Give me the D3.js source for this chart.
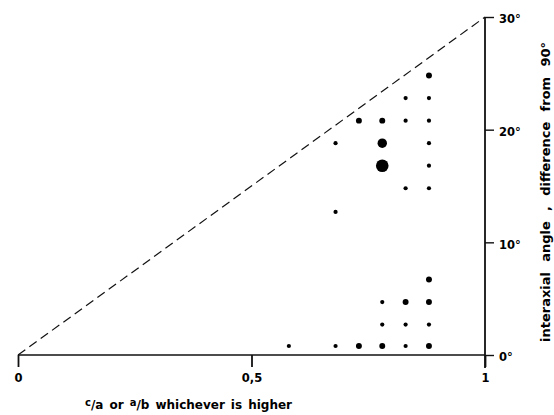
<!DOCTYPE html>
<html>
<head>
<meta charset="utf-8">
<script src="https://cdn.jsdelivr.net/npm/d3@7"></script>
<style>
  html, body { margin: 0; padding: 0; background: #fff; }
  svg { display: block; }
  text { font-family: "DejaVu Sans", "Liberation Sans", Arial, sans-serif; font-weight: bold; fill: #000; }
</style>
</head>
<body>
<svg id="chart" width="554" height="415"></svg>
<script>
// ---- data ----
const ratio = [0.58, 0.68, 0.73, 0.78, 0.83, 0.88,
               0.78, 0.83, 0.88,
               0.78, 0.83, 0.88,
               0.88,
               0.68,
               0.83, 0.88,
               0.78, 0.88,
               0.68, 0.78, 0.88,
               0.73, 0.78, 0.83, 0.88,
               0.83, 0.88,
               0.88];
const angle = [0.8, 0.8, 0.8, 0.8, 0.8, 0.8,
               2.7, 2.7, 2.7,
               4.7, 4.7, 4.7,
               6.7,
               12.7,
               14.8, 14.8,
               16.8, 16.8,
               18.8, 18.8, 18.8,
               20.8, 20.8, 20.8, 20.8,
               22.8, 22.8,
               24.8];
const count = [1, 1, 2, 2, 1, 2,
               1, 1, 1,
               1, 2, 2,
               2,
               1,
               1, 1,
               9, 1,
               1, 5, 1,
               2, 2, 1, 1,
               1, 1,
               2];
const xTicks = [0, 0.5, 1];
const xTickLabels = ["0", "0,5", "1"];
const yTicks = [0, 10, 20, 30];
const yTickLabels = ["0°", "10°", "20°", "30°"];
const diagonal = [[0, 0], [1, 30]];
const xTitleWords = [["c", "/a"], ["", "or"], ["a", "/b"], ["", "whichever"], ["", "is"], ["", "higher"]];
const yTitleWords = ["interaxial", "angle", ",", "difference", "from", "90°"];

// ---- drawing ----
const svg = d3.select("#chart");
const x = d3.scaleLinear().domain([0, 1]).range([18, 485]);
const y = d3.scaleLinear().domain([0, 30]).range([355, 17]);
const r = d3.scaleSqrt().domain([0, 1]).range([0, 2.1]);

// x axis (ticks downward)
const xAxis = d3.axisBottom(x).tickValues(xTicks)
  .tickFormat((d, i) => xTickLabels[i]).tickSize(12).tickPadding(7);
const gx = svg.append("g").attr("transform", `translate(0,${y(0)})`).call(xAxis);
gx.attr("font-family", null).attr("font-size", null);
gx.select(".domain").attr("d", `M${x(0)},0H${x(1)}`).attr("stroke", "#111").attr("stroke-width", 1.6);
gx.selectAll(".tick line").attr("stroke", "#111").attr("stroke-width", 1.8);
gx.selectAll(".tick text").attr("font-size", 11.5).attr("fill", "#000");

// y axis on right
const yAxis = d3.axisRight(y).tickValues(yTicks)
  .tickFormat((d, i) => yTickLabels[i]).tickSize(9).tickPadding(5);
const gy = svg.append("g").attr("transform", `translate(${x(1)},0)`).call(yAxis);
gy.attr("font-family", null).attr("font-size", null);
gy.select(".domain").attr("d", `M0,${y(30)}V${y(0) + 13}`).attr("stroke", "#111").attr("stroke-width", 1.8);
gy.selectAll(".tick line").attr("stroke", "#111").attr("stroke-width", 1.4);
gy.selectAll(".tick text").attr("font-size", 11.5).attr("fill", "#000").attr("dy", "0.5em");

// dashed diagonal
svg.append("path")
  .attr("d", d3.line().x(d => x(d[0])).y(d => y(d[1]))(diagonal))
  .attr("fill", "none").attr("stroke", "#111").attr("stroke-width", 1.2)
  .attr("stroke-dasharray", "9,5");

// dots
svg.append("g").selectAll("circle").data(ratio.map((v, i) => i)).join("circle")
  .attr("cx", i => x(ratio[i])).attr("cy", i => y(angle[i]))
  .attr("r", i => r(count[i])).attr("fill", "#000");

// x label: words spread between x=85 and x=292
(function () {
  const g = svg.append("g");
  const nodes = xTitleWords.map(w => {
    const t = g.append("text").attr("y", 409).attr("font-size", 12);
    t.append("tspan").attr("dy", -3).attr("font-size", 10).text(w[0]);
    t.append("tspan").attr("dy", w[0] ? 3 : 0).text(w[1]);
    return t;
  });
  const widths = nodes.map(n => n.node().getComputedTextLength());
  const total = d3.sum(widths);
  const gap = (292 - 85 - total) / (nodes.length - 1);
  let cx = 85;
  nodes.forEach((n, i) => { n.attr("x", cx); cx += widths[i] + gap; });
})();

// y label: rotated, words spread between y=342 and y=42
(function () {
  const g = svg.append("g").attr("transform", "translate(550,342) rotate(-90)");
  const nodes = yTitleWords.map(w => g.append("text").attr("y", 0).attr("font-size", 13).text(w));
  const widths = nodes.map(n => n.node().getComputedTextLength());
  const total = d3.sum(widths);
  const gap = (300 - total) / (nodes.length - 1);
  let cx = 0;
  nodes.forEach((n, i) => { n.attr("x", cx); cx += widths[i] + gap; });
})();
</script>
</body>
</html>
